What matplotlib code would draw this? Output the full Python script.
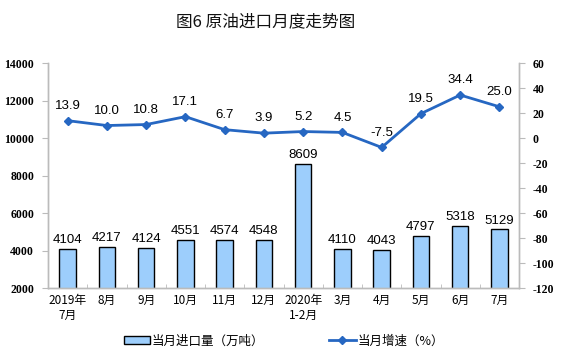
import matplotlib
matplotlib.use("Agg")
import matplotlib.pyplot as plt
from matplotlib.ticker import FixedLocator
from matplotlib.legend_handler import HandlerPatch
from matplotlib.patches import Rectangle

categories = ["2019年\n7月", "8月", "9月", "10月", "11月", "12月", "2020年\n1-2月",
              "3月", "4月", "5月", "6月", "7月"]
imports = [4104, 4217, 4124, 4551, 4574, 4548, 8609, 4110, 4043, 4797, 5318, 5129]
growth = [13.9, 10.0, 10.8, 17.1, 6.7, 3.9, 5.2, 4.5, -7.5, 19.5, 34.4, 25.0]
left_ticks = [2000, 4000, 6000, 8000, 10000, 12000, 14000]
right_ticks = [-120, -100, -80, -60, -40, -20, 0, 20, 40, 60]

cjk = ["Noto Sans CJK SC", "DejaVu Sans"]
serif = ["Liberation Serif", "DejaVu Serif"]
sans = ["Liberation Sans", "DejaVu Sans"]

fig = plt.figure(figsize=(5.61, 3.57), dpi=100)
ax = fig.add_axes([0.0856, 0.193, 0.8396, 0.6305])
ax2 = ax.twinx()

x = list(range(len(categories)))
bars = ax.bar(x, imports, width=0.42, color="#9DCEFC", edgecolor="black", linewidth=1.0,
              label="当月进口量（万吨）", zorder=2)
ax.set_ylim(2000, 14000)
ax.set_xlim(-0.5, len(categories) - 0.5)
ax.set_yticks(left_ticks)
ax.set_yticklabels([str(t) for t in left_ticks], family=serif, fontsize=8.5, weight="bold")
ax.set_xticks(x)
ax.set_xticklabels(categories, family=cjk, fontsize=8.5, linespacing=1.25)
ax.tick_params(axis="x", length=0, pad=4)
ax.xaxis.set_minor_locator(FixedLocator([i + 0.5 for i in range(len(categories) - 1)]))
ax.tick_params(axis="x", which="minor", direction="in", length=3, color="#BBBBBB")
ax.tick_params(axis="y", length=4, color="#BBBBBB", pad=6)

for xi, v in zip(x, imports):
    ax.text(xi, v + 150, str(v), ha="center", va="bottom", fontsize=9.5, family=sans)

line, = ax2.plot(x, growth, color="#2667C2", lw=2, marker="D", markersize=4.5,
                 label="当月增速（%）", zorder=3)
ax2.set_ylim(-120, 60)
ax2.set_yticks(right_ticks)
ax2.set_yticklabels([str(t) for t in right_ticks], family=serif, fontsize=8.5, weight="bold")
ax2.tick_params(axis="y", length=4, color="#BBBBBB", pad=6)
for xi, v in zip(x, growth):
    ax2.text(xi, v + 7, f"{v:.1f}", ha="center", va="bottom", fontsize=9.5, family=sans)

for a in (ax, ax2):
    a.spines["top"].set_visible(False)
    for s in ("left", "right", "bottom"):
        a.spines[s].set_color("#BBBBBB")
        a.spines[s].set_linewidth(1.0)

fig.text(0.473, 0.94, "图6 原油进口月度走势图", ha="center", va="center",
         family=cjk, fontsize=12, color="#111111")


def thin_rect(legend, orig_handle, xdescent, ydescent, width, height, fontsize):
    return Rectangle((-xdescent, -ydescent + height * 0.25), width, height * 0.5)


leg = fig.legend([bars, line], ["当月进口量（万吨）", "当月增速（%）"], loc="center",
                 bbox_to_anchor=(0.506, 0.045), ncol=2, frameon=False,
                 prop={"family": cjk, "size": 9}, columnspacing=5.2, handlelength=2.1,
                 handletextpad=0.15,
                 handler_map={type(bars.patches[0]): HandlerPatch(patch_func=thin_rect)})

fig.savefig("out.png", dpi=100)
